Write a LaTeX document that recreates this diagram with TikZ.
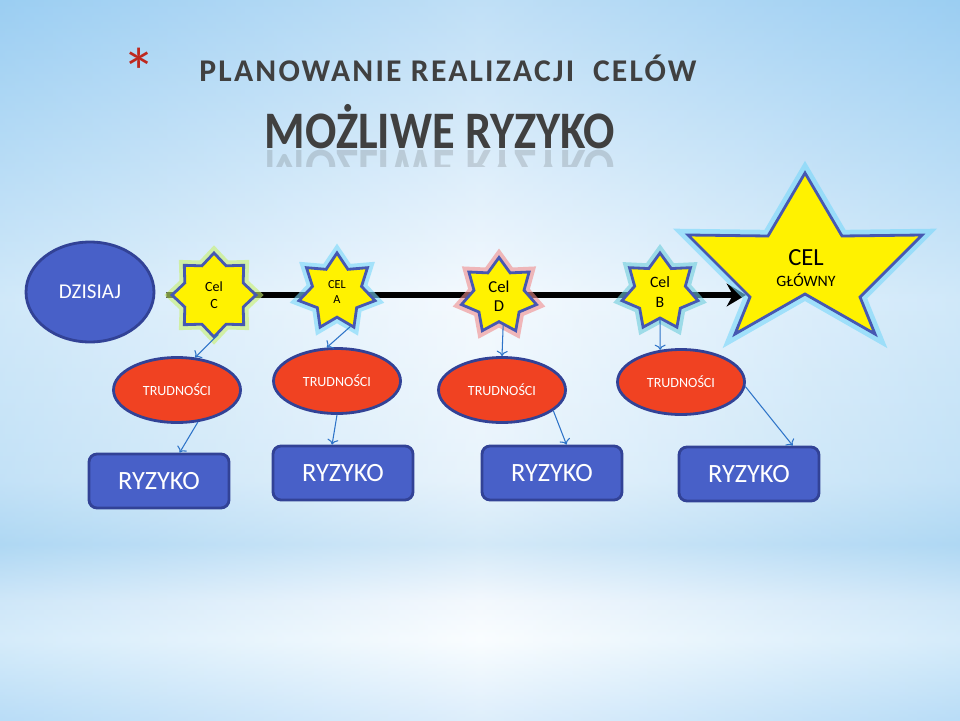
\documentclass[tikz,border=0pt]{standalone}
\usepackage{fontspec}
\setmainfont{Carlito}
\newfontfamily\tytulfont[LetterSpace=7]{Carlito}
\newfontfamily\naglowekfont[FakeStretch=0.88]{Carlito}
\usetikzlibrary{shapes.geometric,arrows.meta,positioning}

\definecolor{ryzykoblue}{RGB}{72,96,200}
\definecolor{ramkablue}{RGB}{50,66,150}
\definecolor{trudred}{RGB}{240,66,34}
\definecolor{starblue}{RGB}{70,88,178}
\definecolor{linkblue}{RGB}{45,115,200}
\definecolor{titlegray}{RGB}{64,64,64}
\definecolor{asterred}{RGB}{190,40,30}
\definecolor{skyedge}{RGB}{150,205,242}
\definecolor{glowgreen}{RGB}{200,240,110}
\definecolor{glowcyan}{RGB}{120,215,250}
\definecolor{glowred}{RGB}{240,140,140}
\definecolor{glowteal}{RGB}{110,205,220}

\pgfdeclareverticalshading{niebo}{100bp}{rgb(0bp)=(0.80,0.90,0.98); rgb(25bp)=(0.80,0.90,0.98); rgb(30.6bp)=(0.97,0.99,1); rgb(33.3bp)=(0.93,0.96,0.99); rgb(37.2bp)=(0.74,0.87,0.96); rgb(41.7bp)=(0.86,0.93,0.98); rgb(54.2bp)=(0.94,0.97,0.995); rgb(75bp)=(0.62,0.81,0.95); rgb(100bp)=(0.62,0.81,0.95)}

\begin{document}
\begin{tikzpicture}[x=0.02cm, y=-0.02cm,
    owal/.style={ellipse, draw=ramkablue, line width=1.6pt, fill=#1, text=white},
    ryzbox/.style={draw=ramkablue, line width=1.6pt, fill=ryzykoblue, rounded corners=0.16cm, minimum width=2.8cm, minimum height=1.08cm, text=white, font=\fontsize{15}{16}\selectfont},
    trud/.style={owal=trudred, minimum width=2.54cm, minimum height=1.3cm, font=\fontsize{8}{9}\selectfont},
    gwiazdka/.style={star, draw=starblue, line width=1.6pt, fill=yellow, inner sep=0pt, align=center, preaction={draw=#1, line width=6pt, opacity=0.6}},
    link/.style={draw=linkblue, line width=0.6pt, -{To[length=3pt]}}]
    % tlo
    \shade[shading=niebo] (0,0) rectangle (960,720);
    \shade[left color=skyedge, right color=skyedge, middle color=white, opacity=0.35] (0,0) rectangle (960,720);
    \useasboundingbox (0,0) rectangle (960,720);

    % tytuly
    \node[text=asterred, font=\fontsize{38}{38}\selectfont] (gw) at (139,72) {*};
    \node[text=titlegray, font=\tytulfont\bfseries\fontsize{18}{20}\selectfont] (plan) at (448,68) {PLANOWANIE REALIZACJI\ \ CELÓW};
    \node[text=titlegray, font=\naglowekfont\bfseries\fontsize{30}{32}\selectfont, anchor=base] (mozliwe) at (440,148) {MOŻLIWE RYZYKO};
    \begin{scope}
        \clip (200,149) rectangle (700,166);
        \node[text=titlegray, opacity=0.18, font=\naglowekfont\bfseries\fontsize{30}{32}\selectfont, anchor=base, yscale=-1] (odbicie) at (440,150) {MOŻLIWE RYZYKO};
    \end{scope}

    % os czasu
    \node[owal=ryzykoblue, minimum width=2.56cm, minimum height=2cm, font=\fontsize{12}{13}\selectfont] (dzisiaj) at (90,292) {DZISIAJ};
    \coordinate (grot) at (746,295);
    \draw[line width=3.4pt, -{Stealth[length=11pt, width=13pt]}] ([xshift=0.22cm, yshift=-0.06cm]dzisiaj.east) -- (grot);

    % cele posrednie
    \node[gwiazdka=glowgreen, star points=8, star point ratio=1.33, minimum size=1.68cm, font=\fontsize{8}{10}\selectfont] (celC) at (214,295) {Cel\\C};
    \node[gwiazdka=glowcyan, star points=7, star point ratio=1.55, minimum size=1.56cm, font=\fontsize{7}{9}\selectfont] (celA) at (337,292) {CEL\\A};
    \node[gwiazdka=glowred, star points=7, star point ratio=1.5, minimum size=1.54cm, font=\fontsize{9.5}{11}\selectfont] (celD) at (499,296) {Cel\\D};
    \node[gwiazdka=glowteal, star points=7, star point ratio=1.5, minimum size=1.56cm, font=\fontsize{9}{11}\selectfont] (celB) at (660,292) {Cel\\B};

    % cel glowny
    \filldraw[draw=starblue, line width=1.6pt, fill=yellow, preaction={draw=glowcyan, line width=7pt, opacity=0.6}]
        (805,173) -- (768,236) -- (688,235) -- (750,297) -- (735,334) -- (805,294)
        -- (875,334) -- (860,297) -- (922,235) -- (842,236) -- cycle;
    \node[align=center, font=\fontsize{14}{12}\selectfont] (glowny) at (806,268) {CEL\\{\fontsize{9}{10}\selectfont GŁÓWNY}};

    % trudnosci
    \node[trud] (trud1) at (177,390) {TRUDNOŚCI};
    \node[trud] (trud2) at (337,381) {TRUDNOŚCI};
    \node[trud] (trud3) at (502,390) {TRUDNOŚCI};
    \node[trud] (trud4) at (681,382) {TRUDNOŚCI};

    % ryzyka
    \node[ryzbox] (ryz1) at (159,481) {RYZYKO};
    \node[ryzbox] (ryz2) at (343,473) {RYZYKO};
    \node[ryzbox] (ryz3) at (552,473) {RYZYKO};
    \node[ryzbox] (ryz4) at (749,474) {RYZYKO};

    \draw[link] (celC.-84) -- (trud1.61);
    \draw[link] (celA.-69) -- (trud2.107);
    \draw[link] (celD.-82) -- (trud3.north);
    \draw[link] (celB.south) -- (trud4.123);
    \draw[link] (trud1.-57) -- (ryz1.54);
    \draw[link] (trud2.south) -- (ryz2.111);
    \draw[link] (trud3.-22) -- (ryz3.63);
    \draw[link] (trud4.-4) -- (ryz4.33);
\end{tikzpicture}
\end{document}
